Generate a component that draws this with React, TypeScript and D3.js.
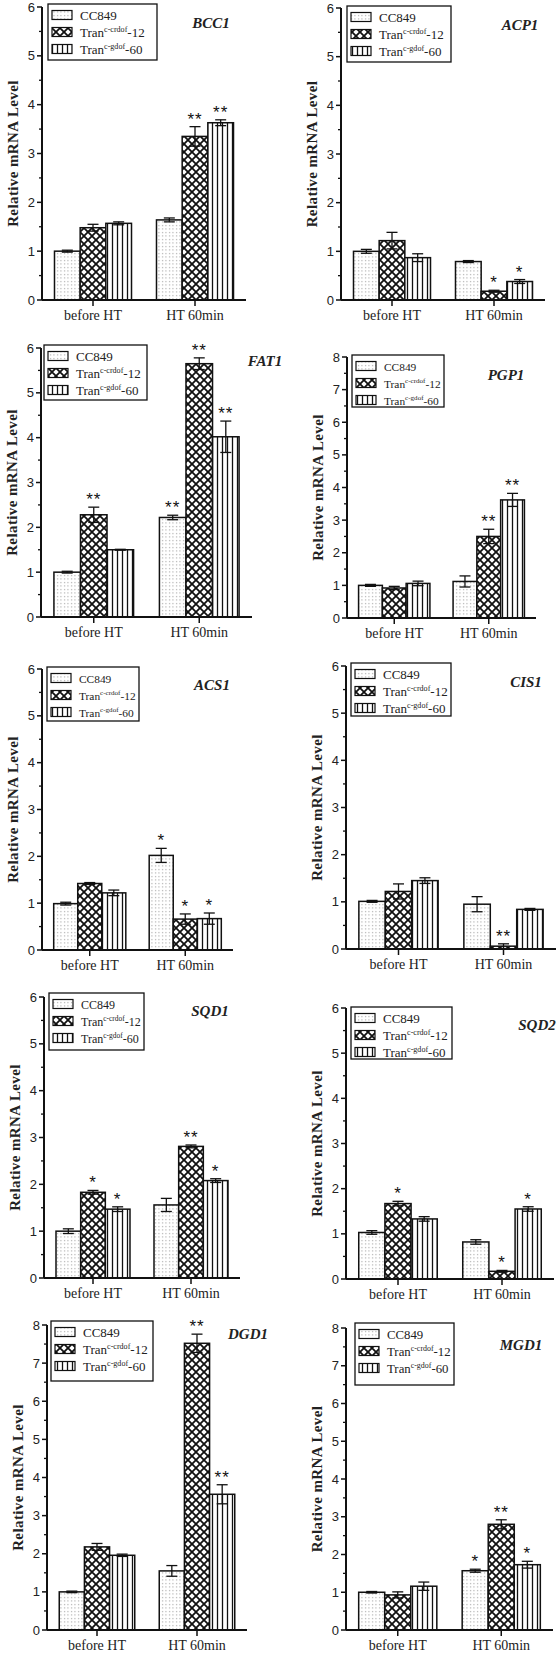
import React from 'react';
import * as d3 from 'd3';

// ---------- data ----------
const genes = ['BCC1', 'ACP1', 'FAT1', 'PGP1', 'ACS1', 'CIS1', 'SQD1', 'SQD2', 'DGD1', 'MGD1'];
const categories = ['before HT', 'HT 60min'];
const seriesBase = ['CC849', 'Tran', 'Tran'];
const seriesSup = ['', 'c-crdof', 'c-gdof'];
const seriesSuffix = ['', '-12', '-60'];
const yMaxes = [6, 6, 6, 8, 6, 6, 6, 6, 8, 8];

// [gene][category]
const cc849Values = [[1.0, 1.64], [1.0, 0.79], [1.0, 2.22], [1.0, 1.12], [0.99, 2.02], [1.01, 0.95], [1.0, 1.56], [1.03, 0.82], [1.0, 1.55], [1.0, 1.57]];
const cc849Errors = [[0.02, 0.04], [0.04, 0.02], [0.02, 0.05], [0.03, 0.17], [0.03, 0.15], [0.02, 0.16], [0.05, 0.14], [0.04, 0.05], [0.02, 0.14], [0.02, 0.04]];
const tran12Values = [[1.48, 3.35], [1.22, 0.18], [2.28, 5.65], [0.92, 2.5], [1.42, 0.66], [1.22, 0.06], [1.83, 2.81], [1.67, 0.17], [2.18, 7.52], [0.93, 2.8]];
const tran12Errors = [[0.07, 0.2], [0.17, 0.02], [0.17, 0.13], [0.05, 0.22], [0.02, 0.11], [0.16, 0.05], [0.04, 0.03], [0.05, 0.02], [0.09, 0.24], [0.08, 0.12]];
const tran60Values = [[1.57, 3.63], [0.87, 0.38], [1.5, 4.02], [1.06, 3.62], [1.22, 0.67], [1.45, 0.84], [1.47, 2.08], [1.33, 1.55], [1.96, 3.56], [1.16, 1.73]];
const tran60Errors = [[0.03, 0.06], [0.08, 0.04], [0.01, 0.35], [0.07, 0.2], [0.06, 0.12], [0.06, 0.02], [0.05, 0.04], [0.05, 0.05], [0.03, 0.25], [0.11, 0.09]];
const cc849Stars = [['', ''], ['', ''], ['', '**'], ['', ''], ['', '*'], ['', ''], ['', ''], ['', ''], ['', ''], ['', '*']];
const tran12Stars = [['', '**'], ['', '*'], ['**', '**'], ['', '**'], ['', '*'], ['', '**'], ['*', '**'], ['*', '*'], ['', '**'], ['', '**']];
const tran60Stars = [['', '**'], ['', '*'], ['', '**'], ['', '**'], ['', '*'], ['', ''], ['*', '*'], ['', '*'], ['', '**'], ['', '*']];

// ---------- layout (pixels) ----------
const layouts = [
  { ax: 42, xe: 246, yt: 7, yz: 300, lx: 48, ly: 4, lw: 109, lh: 56, tx: 211, ty: 28 },
  { ax: 341, xe: 545, yt: 8, yz: 300, lx: 347, ly: 6, lw: 104, lh: 56, tx: 520, ty: 30 },
  { ax: 41, xe: 252, yt: 348, yz: 617, lx: 44, ly: 345, lw: 103, lh: 55, tx: 265, ty: 366 },
  { ax: 347, xe: 536, yt: 357, yz: 618, lx: 352, ly: 355, lw: 92, lh: 52, tx: 506, ty: 380 },
  { ax: 42, xe: 233, yt: 669, yz: 950, lx: 47, ly: 667, lw: 92, lh: 54, tx: 212, ty: 690 },
  { ax: 346, xe: 556, yt: 666, yz: 949, lx: 351, ly: 663, lw: 100, lh: 53, tx: 526, ty: 687 },
  { ax: 44, xe: 240, yt: 997, yz: 1278, lx: 49, ly: 993, lw: 95, lh: 57, tx: 210, ty: 1016 },
  { ax: 346, xe: 554, yt: 1008, yz: 1279, lx: 351, ly: 1007, lw: 101, lh: 52, tx: 537, ty: 1030 },
  { ax: 47, xe: 247, yt: 1325, yz: 1630, lx: 51, ly: 1321, lw: 102, lh: 60, tx: 248, ty: 1339 },
  { ax: 346, xe: 553, yt: 1328, yz: 1630, lx: 355, ly: 1323, lw: 99, lh: 62, tx: 521, ty: 1350 },
];

const patternIds = ['pDots', 'pCross', 'pVert'];
const SANS = '"Liberation Sans", Arial, sans-serif';
const SERIF = '"Liberation Serif", "Times New Roman", serif';

function Panel({ gi }: { gi: number }) {
  const L = layouts[gi];
  const yMax = yMaxes[gi];
  const x0 = d3.scaleBand<string>().domain(categories).range([L.ax, L.xe]).paddingInner(0.245).paddingOuter(0.1225);
  const x1 = d3.scaleBand<number>().domain([0, 1, 2]).range([0, x0.bandwidth()]);
  const y = d3.scaleLinear().domain([0, yMax]).range([L.yz, L.yt]);
  const majors = d3.range(0, yMax + 1, 1);
  const minors = d3.range(0.5, yMax, 1);
  const vals = [cc849Values[gi], tran12Values[gi], tran60Values[gi]];
  const errs = [cc849Errors[gi], tran12Errors[gi], tran60Errors[gi]];
  const stars = [cc849Stars[gi], tran12Stars[gi], tran60Stars[gi]];
  const legendFont = 13 * Math.min(1, (L.lw - 35) / 65);

  const bars: any[] = [];
  categories.forEach((c, ci) => {
    [0, 1, 2].forEach((si) => {
      const bx = (x0(c) as number) + (x1(si) as number);
      const bw = x1.bandwidth();
      const v = vals[si][ci];
      const e = errs[si][ci];
      const cx = bx + bw / 2;
      const yTop = y(v + e);
      const yBot = y(Math.max(0, v - e));
      bars.push(
        <g key={`b${ci}-${si}`}>
          <rect x={bx} y={y(v)} width={bw} height={L.yz - y(v)} fill={`url(#${patternIds[si]})`} stroke="#111" strokeWidth={1.5} />
          <line x1={cx} x2={cx} y1={yTop} y2={yBot} stroke="#111" strokeWidth={1.3} />
          <line x1={cx - 5.5} x2={cx + 5.5} y1={yTop} y2={yTop} stroke="#111" strokeWidth={1.3} />
          <line x1={cx - 5.5} x2={cx + 5.5} y1={yBot} y2={yBot} stroke="#111" strokeWidth={1.3} />
          {stars[si][ci] && (
            <text x={cx} y={yTop - 2} textAnchor="middle" fontFamily={SANS} fontSize={17} fill="#111" letterSpacing={1}>
              {stars[si][ci]}
            </text>
          )}
        </g>
      );
    });
  });

  const rowOffsets = [11, 28, 45];

  return (
    <g>
      {bars}
      {/* y axis */}
      <line x1={L.ax} x2={L.ax} y1={L.yz} y2={L.yt} stroke="#111" strokeWidth={2} />
      {majors.map((t) => (
        <g key={`mj${t}`}>
          <line x1={L.ax - 5} x2={L.ax} y1={y(t)} y2={y(t)} stroke="#111" strokeWidth={1.5} />
          <text x={L.ax - 7} y={y(t)} dy="0.35em" textAnchor="end" fontFamily={SANS} fontSize={13} fill="#222">{t}</text>
        </g>
      ))}
      {minors.map((t) => (
        <line key={`mn${t}`} x1={L.ax - 3} x2={L.ax} y1={y(t)} y2={y(t)} stroke="#111" strokeWidth={1.3} />
      ))}
      {/* x axis */}
      <line x1={L.ax} x2={L.xe} y1={L.yz} y2={L.yz} stroke="#111" strokeWidth={2} />
      {categories.map((c) => {
        const cx = (x0(c) as number) + x0.bandwidth() / 2;
        return (
          <g key={`xc${c}`}>
            <line x1={cx} x2={cx} y1={L.yz} y2={L.yz + 6} stroke="#111" strokeWidth={1.5} />
            <text x={cx} y={L.yz + 20} textAnchor="middle" fontFamily={SERIF} fontSize={14} fill="#222">{c}</text>
          </g>
        );
      })}
      {/* y label */}
      <text transform={`translate(${L.ax - 29},${(L.yz + L.yt) / 2}) rotate(-90)`} dy="0.35em" textAnchor="middle" fontFamily={SERIF} fontWeight="bold" fontSize={15} fill="#222" letterSpacing={0.4}>
        Relative mRNA Level
      </text>
      {/* title */}
      <text x={L.tx} y={L.ty} textAnchor="middle" fontFamily={SERIF} fontWeight="bold" fontStyle="italic" fontSize={15} fill="#222">{genes[gi]}</text>
      {/* legend */}
      <rect x={L.lx} y={L.ly} width={L.lw} height={L.lh} fill="white" stroke="#111" strokeWidth={1.3} />
      {[0, 1, 2].map((si) => {
        const cy = L.ly + rowOffsets[si];
        return (
          <g key={`lg${si}`}>
            <rect x={L.lx + 4} y={cy - 4.5} width={20} height={9} fill={`url(#${patternIds[si]})`} stroke="#111" strokeWidth={1.2} />
            <text x={L.lx + 32} y={cy + 4.5} fontFamily={SERIF} fontSize={legendFont} fill="#222">
              {seriesBase[si]}
              {seriesSup[si] && <tspan dy={-5} fontSize={legendFont * 0.62}>{seriesSup[si]}</tspan>}
              {seriesSuffix[si] && <tspan dy={5}>{seriesSuffix[si]}</tspan>}
            </text>
          </g>
        );
      })}
    </g>
  );
}

export default function App() {
  return (
    <svg width={558} height={1654} style={{ position: 'absolute', left: 0, top: 0, background: 'white' }}>
      <defs>
        <pattern id="pDots" patternUnits="userSpaceOnUse" width={3.5} height={3.5}>
          <rect width={3.5} height={3.5} fill="white" />
          <rect x={1} y={1} width={1} height={1} fill="#8a8a8a" />
        </pattern>
        <pattern id="pCross" patternUnits="userSpaceOnUse" width={8} height={8}>
          <rect width={8} height={8} fill="white" />
          <path d="M-2,-2 L10,10 M10,-2 L-2,10" stroke="#111" strokeWidth={1.8} />
        </pattern>
        <pattern id="pVert" patternUnits="userSpaceOnUse" width={5} height={5}>
          <rect width={5} height={5} fill="white" />
          <line x1={2.5} x2={2.5} y1={0} y2={5} stroke="#111" strokeWidth={1.3} />
        </pattern>
      </defs>
      <rect width={558} height={1654} fill="white" />
      {genes.map((g, gi) => (
        <Panel key={g} gi={gi} />
      ))}
    </svg>
  );
}
